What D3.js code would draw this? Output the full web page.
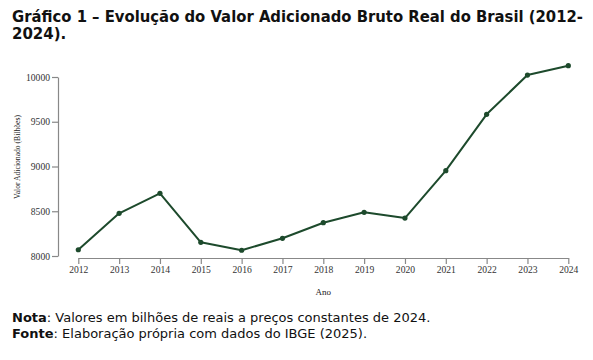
<!DOCTYPE html>
<html><head><meta charset="utf-8">
<script src="https://cdn.jsdelivr.net/npm/d3@7"></script>
<style>
html,body{margin:0;padding:0;background:#fff;}
svg{display:block;}
</style></head>
<body>
<svg id="c" width="593" height="360"></svg>
<script>
const years = [2012,2013,2014,2015,2016,2017,2018,2019,2020,2021,2022,2023,2024];
const values = [8070,8477,8700,8153,8064,8198,8372,8488,8424,8953,9583,10022,10126];
const yTicks = [8000,8500,9000,9500,10000];
const titleLines = ["Gráfico 1 – Evolução do Valor Adicionado Bruto Real do Brasil (2012-","2024)."];
const xLabel = "Ano";
const yLabel = "Valor Adicionado (Bilhões)";

const svg = d3.select("#c");
const x = d3.scalePoint().domain(years).range([78.3, 568.3]);
const y = d3.scaleLinear().domain([8000,10000]).range([256,77]);
const green = "#1d4a2c";
const axisColor = "#888";
const serif = "'Liberation Serif','DejaVu Serif',serif";
const sans = "'DejaVu Sans',Verdana,sans-serif";

// title
const t = svg.append("g");
titleLines.forEach((l,i)=>{
  const e = t.append("text").attr("x",12).attr("y",22+i*17)
   .attr("font-family",sans).attr("font-weight","bold").attr("font-size",15)
   .attr("fill","#111").text(l);
  if(i===0) e.attr("textLength",571).attr("lengthAdjust","spacingAndGlyphs");
});

// x axis
const gx = svg.append("g").attr("transform","translate(0,258)")
  .call(d3.axisBottom(x).tickSize(6).tickSizeOuter(0).tickFormat(d3.format("d")));
gx.select(".domain").attr("stroke",axisColor).attr("stroke-width",1.2);
gx.selectAll(".tick line").attr("stroke",axisColor).attr("stroke-width",1.2);
gx.selectAll(".tick text").attr("y",8).attr("dy","0.71em").attr("font-family",serif).attr("font-size",9.6).attr("fill","#333");

// y axis
const gy = svg.append("g").attr("transform","translate(58,0)")
  .call(d3.axisLeft(y).tickValues(yTicks).tickSize(6).tickSizeOuter(0).tickFormat(d3.format("d")));
gy.select(".domain").attr("stroke",axisColor).attr("stroke-width",1.2);
gy.selectAll(".tick line").attr("stroke",axisColor).attr("stroke-width",1.2);
gy.selectAll(".tick text").attr("x",-8).attr("font-family",serif).attr("font-size",9.6).attr("fill","#333");

// axis labels
svg.append("text").attr("x",(x(2012)+x(2024))/2).attr("y",295).attr("text-anchor","middle")
  .attr("font-family",serif).attr("font-size",9).attr("fill","#222").text(xLabel);
svg.append("text").attr("transform","translate(20,157) rotate(-90)").attr("text-anchor","middle")
  .attr("font-family",serif).attr("font-size",9).attr("fill","#222")
  .attr("textLength",84).attr("lengthAdjust","spacingAndGlyphs").text(yLabel);

// line
const data = years.map((yr,i)=>({yr, v: values[i]}));
svg.append("path").datum(data)
  .attr("fill","none").attr("stroke",green).attr("stroke-width",2)
  .attr("stroke-linejoin","round")
  .attr("d", d3.line().x(d=>x(d.yr)).y(d=>y(d.v)));
svg.selectAll("circle.pt").data(data).join("circle").attr("class","pt")
  .attr("cx",d=>x(d.yr)).attr("cy",d=>y(d.v)).attr("r",2.6).attr("fill",green);

// notes
const notes = [["Nota",": Valores em bilhões de reais a preços constantes de 2024."],
               ["Fonte",": Elaboração própria com dados do IBGE (2025)."]];
notes.forEach((n,i)=>{
  const tx = svg.append("text").attr("x",12).attr("y",322+i*15.5)
    .attr("font-family",sans).attr("font-size",13).attr("fill","#111");
  tx.append("tspan").attr("font-weight","bold").text(n[0]);
  tx.append("tspan").text(n[1]);
});
</script>
</body></html>
